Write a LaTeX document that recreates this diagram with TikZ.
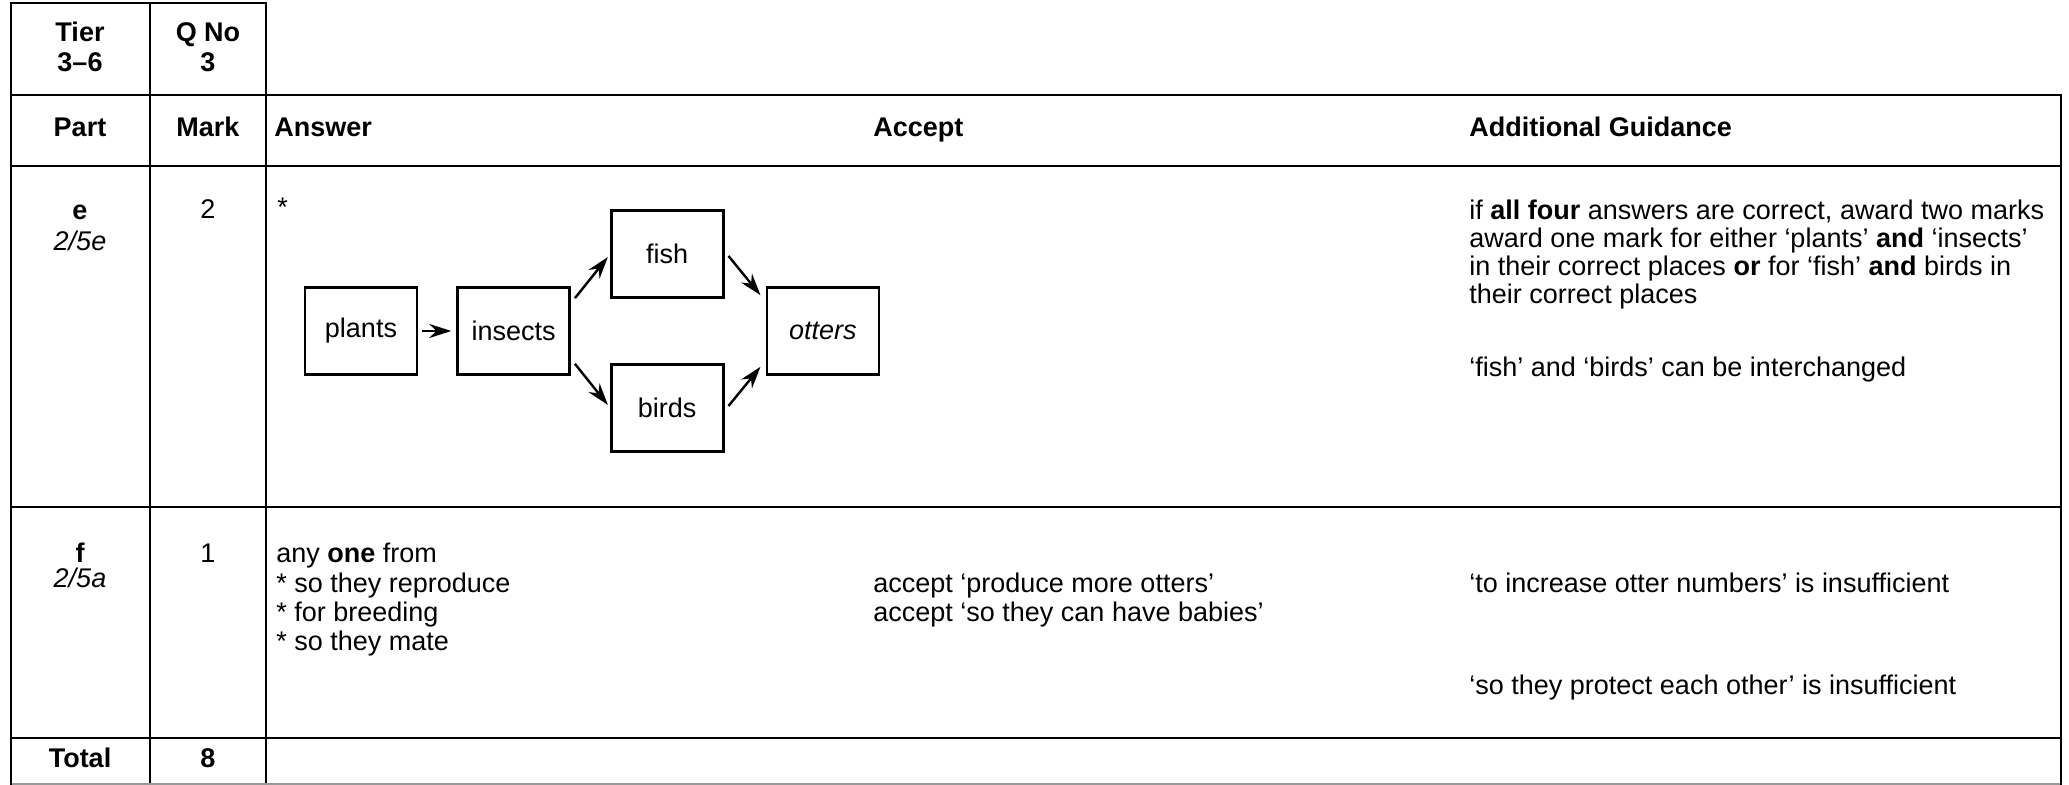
\documentclass[tikz,border=0pt]{standalone}
\usepackage{fontspec}
\setmainfont{Liberation Sans}
\usetikzlibrary{arrows.meta,positioning}

\tikzset{
  thickrule/.style = {line width=1.4pt},
  thinrule/.style = {line width=0.7pt},
  midrule/.style = {line width=1pt},
  txt/.style = {inner sep=0pt, anchor=base west, font=\fontsize{13.5}{14}\selectfont},
  ctxt/.style = {txt, anchor=base},
  hdr/.style = {ctxt, font=\fontsize{13.5}{14}\selectfont\bfseries},
  hdrl/.style = {txt, font=\fontsize{13.5}{14}\selectfont\bfseries},
  ref/.style = {ctxt, font=\fontsize{13.5}{14}\selectfont\itshape},
  foodbox/.style = {draw, line width=1.3pt, minimum width=56pt, minimum height=43.5pt,
    inner sep=0pt, font=\fontsize{13.5}{14}\selectfont},
  feeds/.style = {-{Stealth[length=11pt,width=7pt,inset=3.5pt]}, line width=1.2pt}
}

\begin{document}
\begin{tikzpicture}[x=0.5pt, y=-0.5pt]
  \useasboundingbox (0,0) rectangle (2069,785);
  % table rules
  \draw[thinrule] (150,3) -- (150,785);
  \draw[thinrule] (266,95) -- (266,785);
  \draw[thinrule] (11,166) -- (2061,166);
  \draw[thinrule] (11,507) -- (2061,507);
  \draw[midrule] (11,738) -- (2061,738);
  \draw[thinrule, black!40] (11,784) -- (2061,784);
  \draw[thickrule] (11,785) -- (11,3) -- (266,3) -- (266,95);
  \draw[thickrule] (11,95) -- (2061,95) -- (2061,785);

  % heading
  \node[hdr] (tier) at (80,42) {Tier};
  \node[hdr] (tierrange) at (80,72) {3–6};
  \node[hdr] (qno) at (208,42) {Q No};
  \node[hdr] (qnum) at (208,72) {3};
  \node[hdr] (part) at (80,137) {Part};
  \node[hdr] (mark) at (208,137) {Mark};
  \node[hdrl] (answer) at (274,137) {Answer};
  \node[hdrl] (accept) at (873,137) {Accept};
  \node[hdrl] (guidance) at (1469,137) {Additional Guidance};

  % part e
  \node[hdr] (parte) at (80,220) {e};
  \node[ref] (refe) at (80,251) {2/5e};
  \node[ctxt] (marke) at (208,219) {2};
  \node[txt] (stare) at (277,217) {*};

  \node[foodbox] (plants) at (361,331) {plants};
  \node[foodbox, right=19pt of plants] (insects) {insects};
  \node[foodbox, right=19.5pt of insects, yshift=38.5pt] (fish) {fish};
  \node[foodbox, right=19.5pt of insects, yshift=-38.5pt] (birds) {birds};
  \node[foodbox, right=20.5pt of fish, yshift=-38.5pt] (otters) {\itshape otters};

  \draw[feeds] ([xshift=2pt]plants.east) -- ([xshift=-2.5pt]insects.west);
  \draw[feeds] ([shift={(4,12)}]insects.north east) -- ([shift={(-2,3)}]fish.west);
  \draw[feeds] ([shift={(4,-12)}]insects.south east) -- ([shift={(-2,-3)}]birds.west);
  \draw[feeds] ([shift={(4,2)}]fish.east) -- ([shift={(-5,9)}]otters.north west);
  \draw[feeds] ([shift={(4,-2)}]birds.east) -- ([shift={(-5,-9)}]otters.south west);

  \node[txt] (guidee1) at (1469,220) {if \textbf{all four} answers are correct, award two marks};
  \node[txt] (guidee2) at (1469,248) {award one mark for either ‘plants’ \textbf{and} ‘insects’};
  \node[txt] (guidee3) at (1469,276) {in their correct places \textbf{or} for ‘fish’ \textbf{and} birds in};
  \node[txt] (guidee4) at (1469,304) {their correct places};
  \node[txt] (guidee5) at (1469,377) {‘fish’ and ‘birds’ can be interchanged};

  % part f
  \node[hdr] (partf) at (80,563) {f};
  \node[ref] (reff) at (80,588) {2/5a};
  \node[ctxt] (markf) at (208,563) {1};
  \node[txt] (answerf1) at (276,563) {any \textbf{one} from};
  \node[txt] (answerf2) at (276,593) {* so they reproduce};
  \node[txt] (answerf3) at (276,622) {* for breeding};
  \node[txt] (answerf4) at (276,651) {* so they mate};
  \node[txt] (acceptf1) at (873,593) {accept ‘produce more otters’};
  \node[txt] (acceptf2) at (873,622) {accept ‘so they can have babies’};
  \node[txt] (guidef1) at (1469,593) {‘to increase otter numbers’ is insufficient};
  \node[txt] (guidef2) at (1469,695) {‘so they protect each other’ is insufficient};

  % total
  \node[hdr] (total) at (80,768) {Total};
  \node[hdr] (totalmark) at (208,768) {8};
\end{tikzpicture}
\end{document}
